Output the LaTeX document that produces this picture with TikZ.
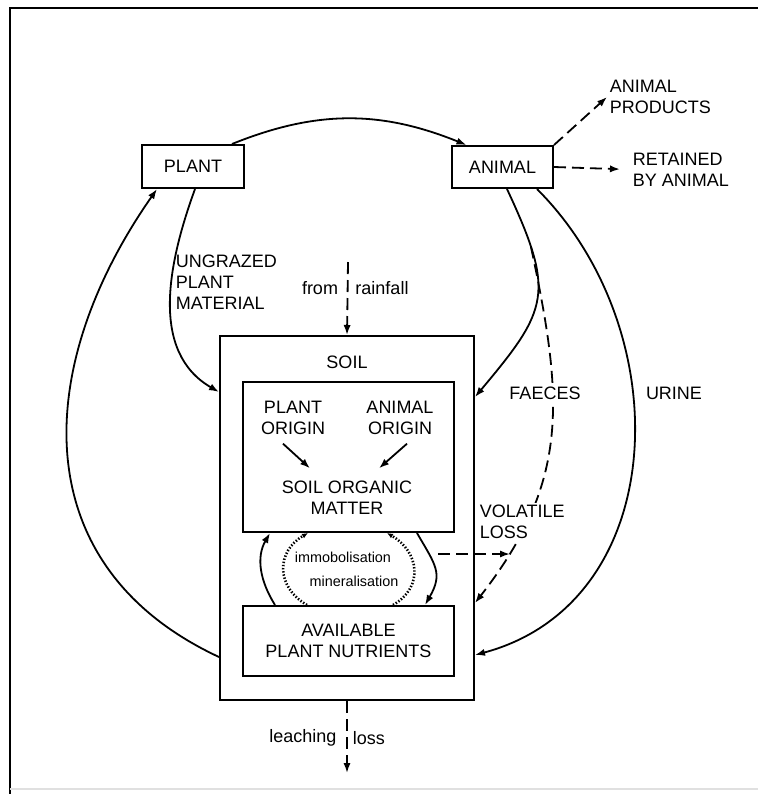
\documentclass[tikz,border=0pt]{standalone}
\usepackage{fontspec}
\setmainfont{Liberation Sans}
\usetikzlibrary{arrows.meta,calc,positioning}

\begin{document}
\begin{tikzpicture}[x=0.5pt,y=0.5pt,font=\fontsize{9}{10.5}\selectfont,line width=0.9pt,
      box/.style={draw,line width=1pt,inner sep=0pt},
      lbl/.style={inner sep=1pt},
      arr/.style={-{Latex[length=5pt,width=3.6pt]}},
      dsh/.style={dash pattern=on 6pt off 3pt},
      dots/.style={line width=1.3pt,dash pattern=on 0.7pt off 0.9pt,-{Latex[length=3pt,width=2.6pt]}},
      small/.style={font=\fontsize{7.2}{8}\selectfont}]
      \useasboundingbox (0,0) rectangle (758,-794);
      \draw[line width=1pt] (10,-794) -- (10,-8) -- (758,-8);
      \draw[black!12] (10,-789) -- (758,-789);
      % boxes
      \node[box,minimum width=51pt,minimum height=21.5pt] (plant) at (193,-166.5) {PLANT};
      \node[box,minimum width=50.5pt,minimum height=21pt] (animal) at (502.5,-167) {ANIMAL};
      \node[box,minimum width=127pt,minimum height=182pt] (soil) at (347,-518) {};
      \node[box,minimum width=105.5pt,minimum height=75pt] (som) at (348.5,-457) {};
      \node[box,minimum width=105.5pt,minimum height=35pt,align=center] (apn) at (348.5,-641) {AVAILABLE\\PLANT NUTRIENTS};
      % free ends
      \coordinate (rain) at (348,-262);
      \coordinate (leach) at (347,-773);
      \coordinate (imright) at (438,-554);
      \coordinate (volend) at (510,-554);
      % flows
      \draw[arr] ($(plant.north)+(39,0)$) to[out=22,in=158] ($(animal.north)+(-36,0)$);
      \draw[arr] ($(plant.south)+(2,0)$) to[out=-110,in=150] ($(soil.west)+(0,126)$);
      \draw[arr] ($(soil.west)+(0,-139)$) to[out=155,in=-125,looseness=1.17] ($(plant.south west)+(16,0)$);
      \draw[arr] ($(animal.south)+(4.5,0)$) to[out=-65,in=50,looseness=1.4] coordinate[pos=0.22] (fvol) ($(soil.east)+(0,121)$);
      \draw[arr] ($(animal.south)+(34.5,0)$) to[out=-45,in=15,looseness=1.1] ($(soil.east)+(0,-137)$);
      \draw[arr,dsh] (fvol) to[out=-78,in=52,looseness=1.1] ($(soil.east)+(0,-85)$);
      \draw[arr,dsh] (imright) -- (volend);
      \draw[arr,dsh] (rain) -- (soil.north);
      \draw[arr,dsh] (soil.south) -- (leach);
      % immobilisation / mineralisation
      \draw[arr] ($(apn.north)+(-73.5,0)$) to[out=122,in=-120] ($(som.south)+(-78.5,0)$);
      \draw[arr] ($(som.south)+(68.5,0)$) to[out=-60,in=60,looseness=1.3] ($(apn.north)+(76.5,0)$);
      \draw[dots] ($(apn.north)+(-41.5,0)$) to[out=150,in=210,looseness=1.3] ($(som.south)+(-40.5,0)$);
      \draw[dots] ($(apn.north)+(44.5,0)$) to[out=30,in=-30,looseness=1.3] ($(som.south)+(38.5,0)$);
      % labels
      \node[lbl,anchor=west,align=left] (products) at (607,-97) {ANIMAL\\PRODUCTS};
      \node[lbl,anchor=west,align=left] (retained) at (630,-169.5) {RETAINED\\BY ANIMAL};
      \draw[arr,dsh] (animal.north east) -- (products.west);
      \draw[arr,dsh,shorten >=5pt] (animal.east) -- (retained.west);
      \node[lbl,anchor=west,align=left] (ungrazed) at (173,-282.5) {UNGRAZED\\PLANT\\MATERIAL};
      \node[lbl] (from) at (320,-288) {from};
      \node[lbl] (rainfall) at (382,-288) {rainfall};
      \node[lbl] (soiltxt) at (347,-362) {SOIL};
      \node[lbl,align=center] (plorig) at (293,-418) {PLANT\\ORIGIN};
      \node[lbl,align=center] (anorig) at (400,-418) {ANIMAL\\ORIGIN};
      \node[lbl,align=center] (somtxt) at (347,-498) {SOIL ORGANIC\\MATTER};
      \draw[arr] ($(plorig.south)+(-10,-6)$) -- ($(somtxt.north)+(-37,10)$);
      \draw[arr] ($(anorig.south)+(7,-6)$) -- ($(somtxt.north)+(32,10)$);
      \node[lbl,small] (immob) at (343,-557) {immobolisation};
      \node[lbl,small] (mineral) at (354,-581) {mineralisation};
      \node[lbl,anchor=west,align=left,fill=white] (volatile) at (477,-522) {VOLATILE\\LOSS};
      \node[lbl,fill=white] (faeces) at (545,-393) {FAECES};
      \node[lbl] (urine) at (674,-393) {URINE};
      \node[lbl] (leaching) at (303,-738) {leaching};
      \node[lbl] (loss) at (369,-738) {loss};
    \end{tikzpicture}
\end{document}
